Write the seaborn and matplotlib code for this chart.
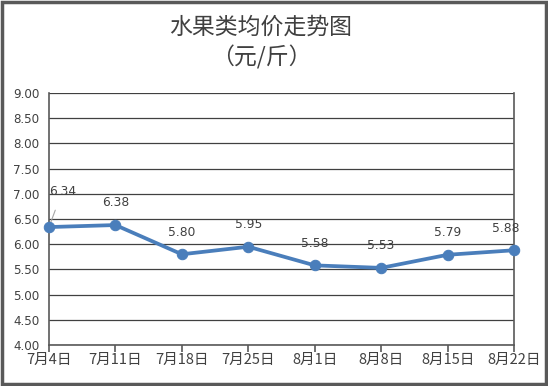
import matplotlib
matplotlib.use("Agg")
import matplotlib.pyplot as plt
import seaborn as sns
import pandas as pd
from matplotlib.patches import Rectangle

sns.set_theme(style="white")
plt.rcParams['font.family'] = ['Noto Sans CJK SC', 'DejaVu Sans']

dates = ["7月4日", "7月11日", "7月18日", "7月25日", "8月1日", "8月8日", "8月15日", "8月22日"]
prices = [6.34, 6.38, 5.80, 5.95, 5.58, 5.53, 5.79, 5.88]
yticks = [4.00, 4.50, 5.00, 5.50, 6.00, 6.50, 7.00, 7.50, 8.00, 8.50, 9.00]

df = pd.DataFrame({"date": dates, "price": prices, "pos": range(len(dates))})

fig = plt.figure(figsize=(5.48, 3.86), dpi=100)
ax = fig.add_axes([49/548, 1-345/386, (514-49)/548, (345-93)/386])

line_color = "#4A7EBB"
sns.lineplot(data=df, x="pos", y="price", ax=ax, color=line_color, linewidth=2.7,
             marker="o", markersize=7.5, markeredgecolor=line_color, zorder=5, clip_on=False)

num_font = ["DejaVu Sans"]

ax.set_xlim(0, len(dates) - 1)
ax.set_ylim(4, 9)
ax.set_yticks(yticks)
ax.set_yticklabels([f"{v:.2f}" for v in yticks], fontsize=8.6, color="#404040", family=num_font)
ax.set_xticks(range(len(dates)))
ax.set_xticklabels(dates, fontsize=10.5, color="#404040")
ax.set_xlabel("")
ax.set_ylabel("")
ax.yaxis.grid(True, color="#404040", linewidth=0.9)
ax.set_axisbelow(True)
for s in ["left", "bottom", "right"]:
    ax.spines[s].set_color("#595959")
    ax.spines[s].set_linewidth(1.2)
ax.spines["top"].set_visible(False)
ax.tick_params(axis="x", length=5, width=1.2, color="#595959", direction="out", pad=0.5, bottom=True)
ax.tick_params(axis="y", length=0, pad=7)

for i, v in enumerate(prices):
    if i == 0:
        ax.annotate(f"{v:.2f}", xy=(i, v), xytext=(i + 0.2, v + 0.71), fontsize=8.8,
                    color="#404040", ha="center", va="center", family=num_font,
                    arrowprops=dict(arrowstyle="-", color="#A6A6A6", lw=0.8, shrinkA=7, shrinkB=3))
    else:
        dx = -6 if i == len(prices) - 1 else 0
        ax.annotate(f"{v:.2f}", xy=(i, v), xytext=(dx, 16), textcoords="offset points",
                    fontsize=8.8, color="#404040", ha="center", va="center", family=num_font)

fig.text(261/548, 1-27/386, "水果类均价走势图", ha="center", va="center", fontsize=16.5, color="#404040")
fig.text(261/548, 1-57/386, "（元/斤）", ha="center", va="center", fontsize=16.5, color="#404040")

fig.patches.append(Rectangle((0.003, 0.004), 0.994, 0.992, transform=fig.transFigure,
                             fill=False, edgecolor="#595959", linewidth=2.5))

fig.savefig("out.png", dpi=100)
